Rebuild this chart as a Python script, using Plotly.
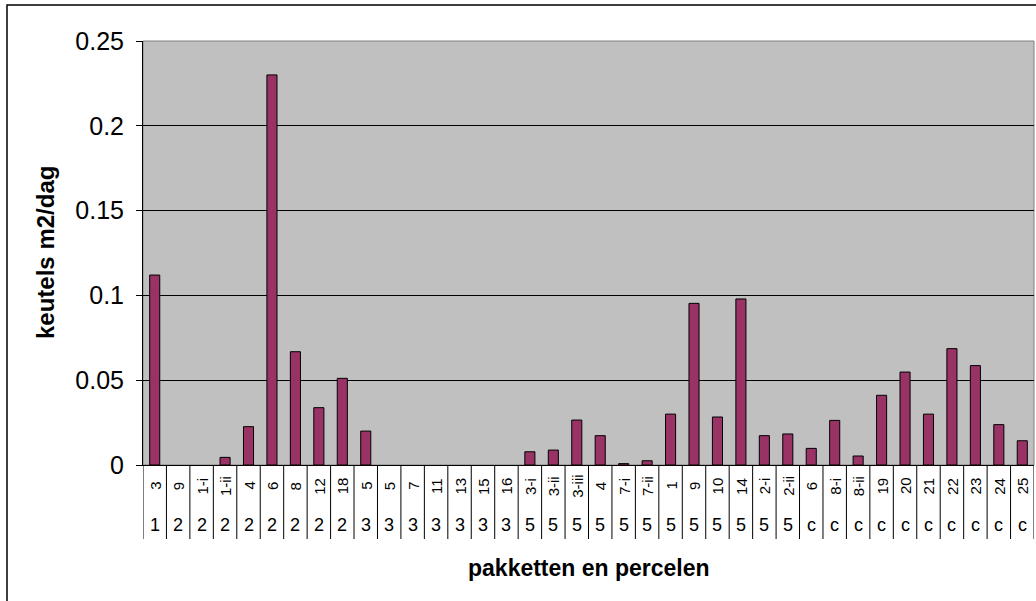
import plotly.graph_objects as go

# Data
percelen = ['3', '9', '1-i', '1-ii', '4', '6', '8', '12', '18',
            '5', '5', '7', '11', '13', '15', '16',
            '3-i', '3-ii', '3-iii', '4', '7-i', '7-ii', '1', '9', '10', '14', '2-i', '2-ii',
            '6', '8-i', '8-ii', '19', '20', '21', '22', '23', '24', '25']
pakketten = ['1', '2', '2', '2', '2', '2', '2', '2', '2',
             '3', '3', '3', '3', '3', '3', '3',
             '5', '5', '5', '5', '5', '5', '5', '5', '5', '5', '5', '5',
             'c', 'c', 'c', 'c', 'c', 'c', 'c', 'c', 'c', 'c']
keutels = [0.112, 0, 0, 0.0045, 0.0226, 0.230, 0.0668, 0.0338, 0.0511,
           0.020, 0, 0, 0, 0, 0, 0,
           0.0078, 0.0088, 0.0265, 0.0173, 0.0008, 0.0025, 0.030, 0.0953, 0.0283, 0.0979, 0.0173, 0.0183,
           0.0098, 0.0263, 0.0053, 0.0411, 0.0548, 0.030, 0.0686, 0.0586, 0.0238, 0.0143]

W, H = 1036, 601
L, R, T, B = 143, 2, 41, 136
plot_h = H - T - B
plot_w = W - L - R


def py(px):
    # pixel row -> paper y
    return (H - B - px) / plot_h


def pxx(px):
    return (px - L) / plot_w


pos = list(range(len(percelen)))
# no outline on empty bars
outline = [1 if v > 0 else 0 for v in keutels]

fig = go.Figure()
fig.add_trace(go.Bar(x=pos, y=keutels, width=0.43,
                     marker=dict(color='#993366', line=dict(color='black', width=outline))))

font = 'Arial, Liberation Sans, sans-serif'
ann = []
for i, (p, g) in enumerate(zip(percelen, pakketten)):
    ann.append(dict(x=i, y=py(486), xref='x', yref='paper', text=p, textangle=-90,
                    xanchor='center', yanchor='middle',
                    showarrow=False, font=dict(size=15, color='black', family=font)))
    ann.append(dict(x=i, y=py(525), xref='x', yref='paper', text=g,
                    xanchor='center', yanchor='middle',
                    showarrow=False, font=dict(size=18, color='black', family=font)))
ann.append(dict(x=0.5, y=py(568), xref='paper', yref='paper', text='<b>pakketten en percelen</b>',
                xanchor='center', yanchor='middle',
                showarrow=False, font=dict(size=23, color='black', family=font)))
ann.append(dict(x=pxx(45), y=0.5, xref='paper', yref='paper', text='<b>keutels m2/dag</b>',
                xanchor='center', yanchor='middle',
                textangle=-90, showarrow=False, font=dict(size=24, color='black', family=font)))

shapes = []
for i in range(len(percelen) + 1):
    shapes.append(dict(type='line', xref='x', yref='paper', x0=i - 0.5, x1=i - 0.5,
                       y0=0, y1=py(539), line=dict(color='black', width=1)))
# plot area border
shapes.append(dict(type='rect', xref='paper', yref='paper', x0=0, x1=1, y0=0, y1=1,
                   line=dict(color='#808080', width=1), layer='below'))
# outer chart border
shapes.append(dict(type='rect', xref='paper', yref='paper', x0=pxx(7), x1=pxx(1045),
                   y0=py(620), y1=py(5), line=dict(color='black', width=1.5)))

fig.update_layout(
    width=W, height=H,
    margin=dict(l=L, r=R, t=T, b=B),
    paper_bgcolor='white', plot_bgcolor='#C0C0C0',
    showlegend=False,
    font=dict(family=font, color='black'),
    xaxis=dict(range=[-0.5, len(percelen) - 0.5], showticklabels=False, ticks='',
               showgrid=False, zeroline=False, showline=True, linecolor='black', linewidth=1),
    yaxis=dict(range=[0, 0.25], dtick=0.05, ticks='outside', ticklen=6,
               tickcolor='black', showgrid=True, gridcolor='black', gridwidth=1,
               zeroline=False, showline=True, linecolor='black', linewidth=1,
               ticklabelstandoff=7,
               tickfont=dict(size=25, color='black')),
    annotations=ann, shapes=shapes,
)

fig.write_html('out.html', config={'displayModeBar': False},
               post_script="document.body.style.margin='0';document.body.style.overflow='hidden';")
